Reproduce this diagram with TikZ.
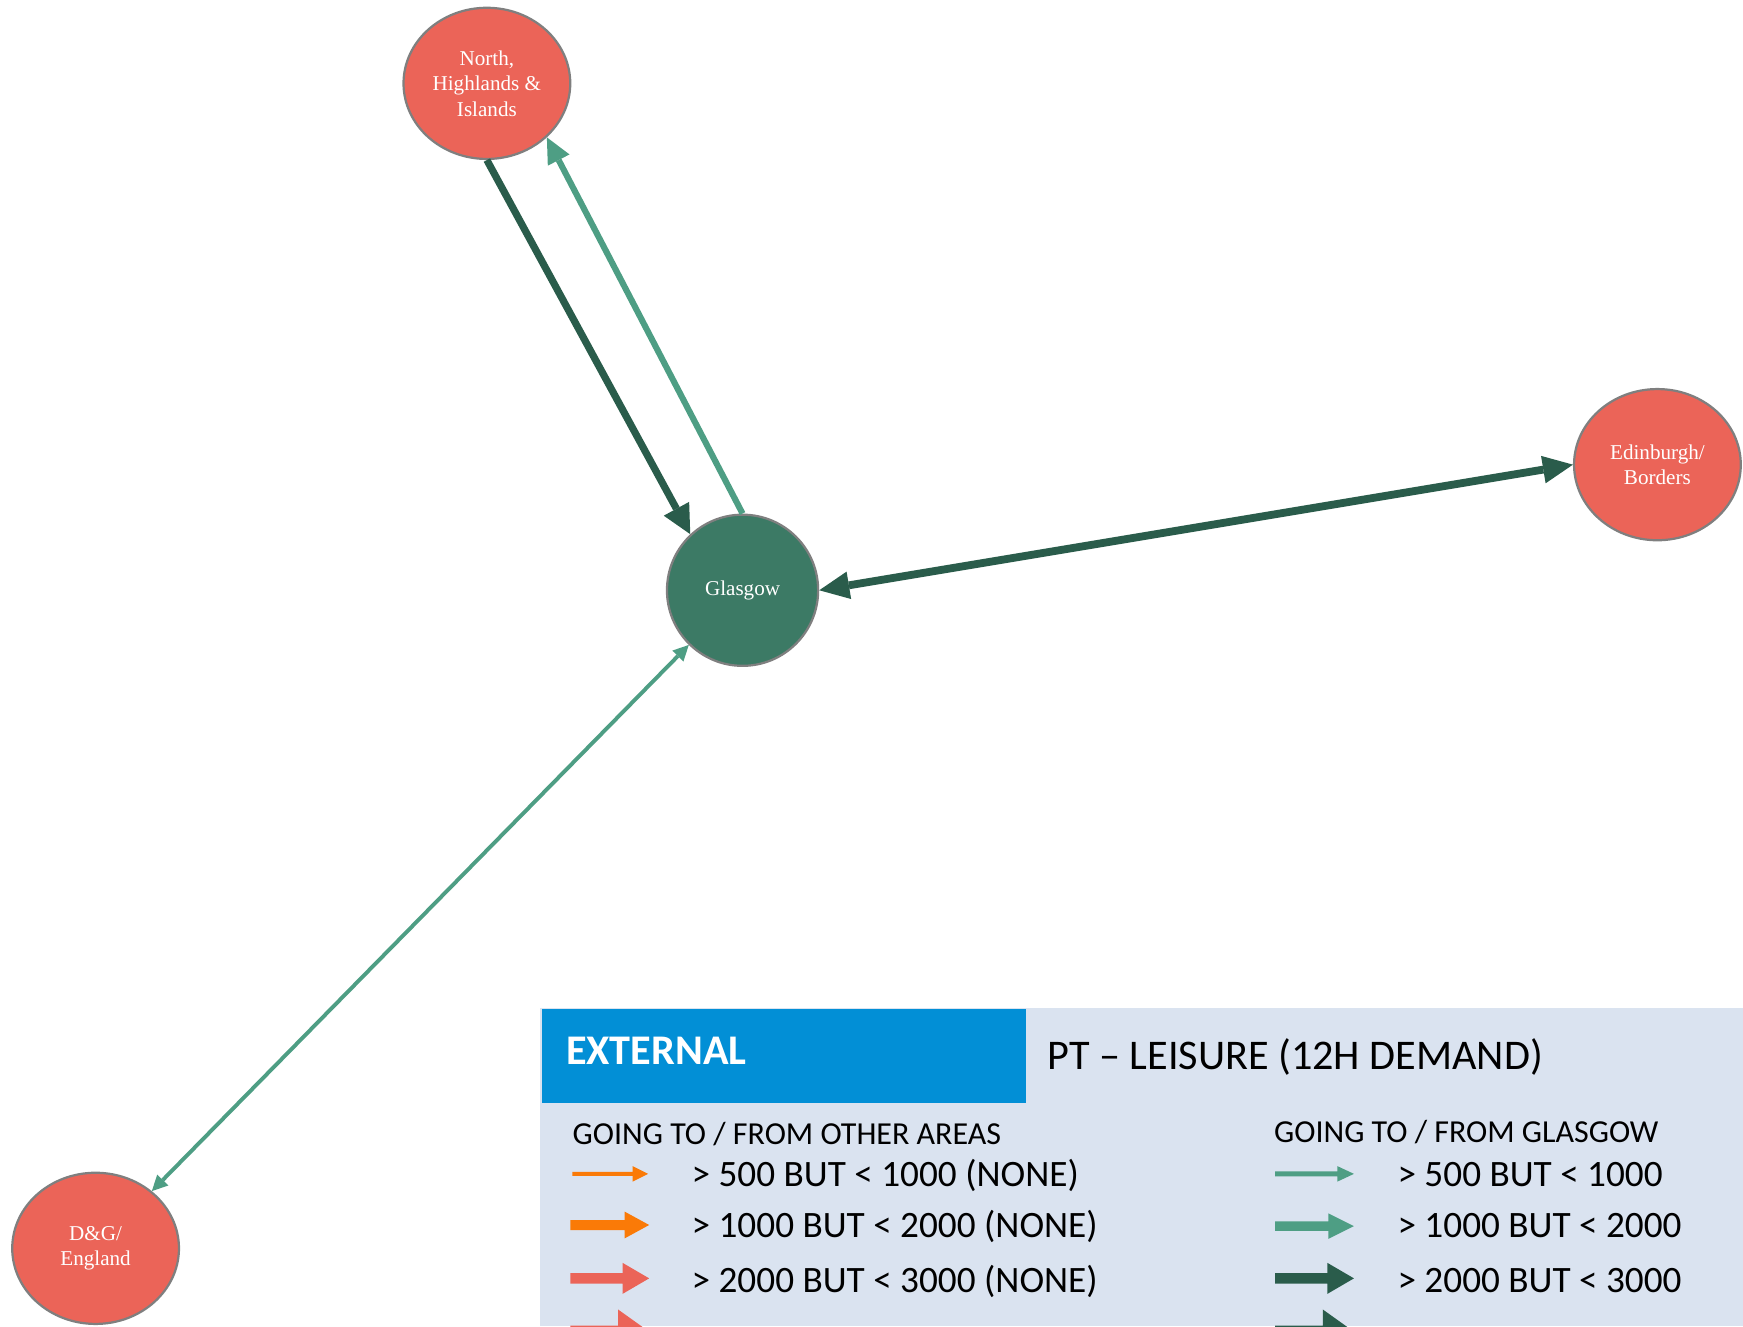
\documentclass[tikz,border=0pt]{standalone}
\usepackage{fontspec}
\setmainfont{Liberation Serif}
\newfontfamily\calibri{Carlito}
\usetikzlibrary{shapes.geometric,arrows.meta}
\definecolor{areared}{HTML}{EB6458}
\definecolor{glasfill}{HTML}{3C7A65}
\definecolor{darkgr}{HTML}{2A5C4B}
\definecolor{lightgr}{HTML}{4E9E84}
\definecolor{orangex}{HTML}{FA7A07}
\definecolor{legbg}{HTML}{DAE3F0}
\definecolor{legblue}{HTML}{028FD6}
\definecolor{rimgray}{HTML}{7F7F7F}
\newcommand\legarrow[7]{\fill[#1] (#2,{#4-#5/2}) -- ({#3-#6},{#4-#5/2}) -- ({#3-#6},{#4-#7/2}) -- (#3,#4) -- ({#3-#6},{#4+#7/2}) -- ({#3-#6},{#4+#5/2}) -- (#2,{#4+#5/2}) -- cycle;}
\begin{document}
\begin{tikzpicture}[x=1pt,y=-1pt,
  area/.style={ellipse,fill=areared,draw=rimgray,line width=2pt,minimum width=150pt,minimum height=136pt,inner sep=0pt,text=white,align=center,font=\fontsize{19}{23}\selectfont},
  hub/.style={circle,fill=glasfill,draw=rimgray,line width=2pt,minimum size=136pt,inner sep=0pt,text=white,font=\fontsize{19}{23}\selectfont},
  darkflow/.style={draw=darkgr,line width=6.5pt,-{Triangle[length=26pt,width=26pt,line width=0pt]}},
  lightflow/.style={draw=lightgr,line width=5.5pt,-{Triangle[length=23pt,width=22pt,line width=0pt]}},
  bothdark/.style={draw=darkgr,line width=7pt,{Triangle[length=27pt,width=25pt,line width=0pt]}-{Triangle[length=27pt,width=25pt,line width=0pt]}},
  bothlight/.style={draw=lightgr,line width=3.5pt,{Triangle[length=14pt,width=14pt,line width=0pt]}-{Triangle[length=14pt,width=14pt,line width=0pt]}},
  legtitle/.style={anchor=base west,inner sep=0pt,font=\calibri\fontsize{38}{44}\selectfont},
  leghead/.style={anchor=base west,inner sep=0pt,font=\calibri\fontsize{28.8}{32}\selectfont},
  legrow/.style={anchor=base west,inner sep=0pt,font=\calibri\fontsize{33.5}{38}\selectfont}]
\useasboundingbox (0,0) rectangle (1568,1193);
\clip (0,0) rectangle (1568,1193);
% legend panel
\fill[legbg] (486,907) rectangle (1568,1193);
\fill[legblue] (488,908) rectangle (923,992);
\node[legtitle,text=white,font=\calibri\bfseries\fontsize{38}{44}\selectfont] (ext) at (509,958) {EXTERNAL};
\node[legtitle] (title) at (942,962) {PT – LEISURE (12H DEMAND)};
\node[leghead] (hleft) at (515,1030) {GOING TO / FROM OTHER AREAS};
\node[leghead] (hright) at (1146,1028) {GOING TO / FROM GLASGOW};
\node[legrow] (l1) at (622,1067) {> 500 BUT < 1000 (NONE)};
\node[legrow] (l2) at (622,1113) {> 1000 BUT < 2000 (NONE)};
\node[legrow] (l3) at (622,1163) {> 2000 BUT < 3000 (NONE)};
\node[legrow] (r1) at (1257,1067) {> 500 BUT < 1000};
\node[legrow] (r2) at (1257,1113) {> 1000 BUT < 2000};
\node[legrow] (r3) at (1257,1163) {> 2000 BUT < 3000};
\legarrow{orangex}{515}{583}{1056}{3.5}{14}{14}
\legarrow{orangex}{513}{584}{1102}{9}{22}{24}
\legarrow{areared}{513}{584}{1150}{9.5}{24}{28}
\legarrow{areared}{513}{584}{1198}{11}{28}{40}
\legarrow{lightgr}{1147}{1218}{1056}{4.5}{15}{14}
\legarrow{lightgr}{1147}{1218}{1103}{8.5}{23}{23}
\legarrow{darkgr}{1147}{1218}{1150}{9.5}{24}{28}
\legarrow{darkgr}{1147}{1218}{1198}{11}{28}{40}
% nodes
\node[area] (north) at (438,75) {North,\\Highlands \&\\Islands};
\node[hub] (glasgow) at (668,531) {Glasgow};
\node[area] (edin) at (1491,418) {Edinburgh/\\Borders};
\node[area] (dg) at (86,1123) {D\&G/\\England};
% connectors
\draw[darkflow] (north.south) -- (glasgow.133);
\draw[lightflow] (glasgow.north) -- (north.318);
\draw[bothdark] (glasgow.east) -- (edin.west);
\draw[bothlight] (glasgow) -- (dg);
\end{tikzpicture}
\end{document}
